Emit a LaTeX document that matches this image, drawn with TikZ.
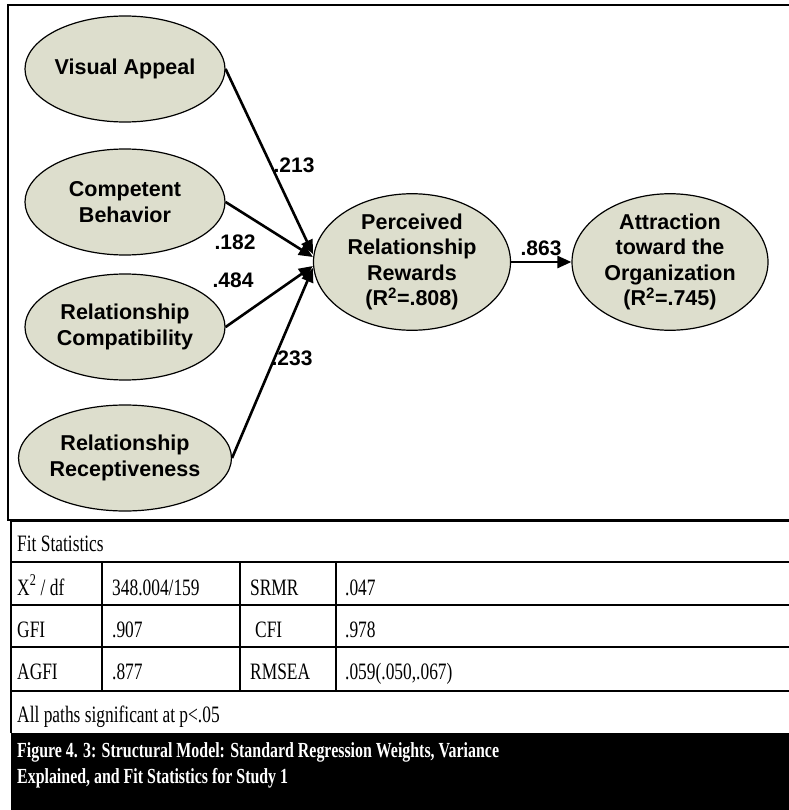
\documentclass[tikz,border=0pt]{standalone}
\usepackage{fontspec}
\setmainfont{Liberation Serif}
\newfontfamily\diagfont{Liberation Sans}
\newfontfamily\tabfont[FakeStretch=0.74]{Liberation Serif}
\newfontfamily\capfont[FakeStretch=0.74]{Liberation Serif}
\usetikzlibrary{shapes.geometric,arrows.meta}
\definecolor{latentfill}{RGB}{221,222,205}

\begin{document}
\begin{tikzpicture}[x=1pt,y=-1pt,
    latent/.style={ellipse,draw,line width=1.2pt,fill=latentfill,
      minimum width=200pt,minimum height=106pt,inner sep=0pt,align=center,
      font=\diagfont\bfseries\fontsize{21.5}{25.5}\selectfont},
    regpath/.style={line width=2.6pt,-{Triangle[length=14pt,width=12pt]}},
    wlabel/.style={inner sep=0pt,font=\diagfont\bfseries\fontsize{21}{25}\selectfont},
    cell/.style={anchor=base west,inner sep=0pt,font=\tabfont\fontsize{23.5}{26}\selectfont},
    tabrule/.style={line width=1.5pt}]
    \useasboundingbox (0,0) rectangle (788,810);

    % Diagram frame
    \draw[line width=2.6pt] (795,5) -- (8,5) -- (8,520) -- (795,520);

    % Exogenous constructs
    \node[latent] (va) at (125,69) {Visual Appeal};
    \node[latent] (cb) at (125,202) {Competent\\Behavior};
    \node[latent] (rc) at (125,327) {Relationship\\Compatibility};
    \node[latent] (rr) at (125,458) {Relationship\\Receptiveness};

    % Endogenous constructs
    \node[latent,minimum width=197pt,minimum height=124pt] (prr) at (412,262)
      {Perceived\\Relationship\\Rewards\\(R\textsuperscript{2}=.808)};
    \node[latent,minimum width=196pt,minimum height=124pt] (ato) at (670,262)
      {Attraction\\toward the\\Organization\\(R\textsuperscript{2}=.745)};

    % Regression paths
    \draw[regpath] (va.east) -- ([yshift=8pt]prr.west);
    \draw[regpath] (cb.east) -- ([yshift=5pt]prr.west);
    \draw[regpath] (rc.east) -- ([yshift=-4pt]prr.west);
    \draw[regpath] (rr.east) -- ([yshift=-6pt]prr.west);
    \draw[regpath] (prr.east) -- (ato.west);

    % Standardised weights
    \node[wlabel] (w1) at (294,165) {.213};
    \node[wlabel] (w2) at (235,242) {.182};
    \node[wlabel] (w3) at (233,280) {.484};
    \node[wlabel] (w4) at (292,358) {.233};
    \node[wlabel] (w5) at (541,248) {.863};

    % Fit statistics table
    \draw[tabrule] (795,521) -- (11,521) -- (11,733);
    \draw[tabrule] (11,562) -- (795,562);
    \draw[tabrule] (11,605) -- (795,605);
    \draw[tabrule] (11,647) -- (795,647);
    \draw[tabrule] (11,691) -- (795,691);
    \draw[tabrule] (102,562) -- (102,691);
    \draw[tabrule] (240,562) -- (240,691);
    \draw[tabrule] (336,562) -- (336,691);

    \node[cell] (fit) at (17,551) {Fit Statistics};
    \node[cell] (chi) at (17,595) {X\textsuperscript{2} / df};
    \node[cell] (chiv) at (112,595) {348.004/159};
    \node[cell] (srmr) at (250,595) {SRMR};
    \node[cell] (srmrv) at (345,595) {.047};
    \node[cell] (gfi) at (17,637) {GFI};
    \node[cell] (gfiv) at (112,637) {.907};
    \node[cell] (cfi) at (255,637) {CFI};
    \node[cell] (cfiv) at (345,637) {.978};
    \node[cell] (agfi) at (17,679) {AGFI};
    \node[cell] (agfiv) at (112,679) {.877};
    \node[cell] (rmsea) at (250,679) {RMSEA};
    \node[cell] (rmseav) at (345,679) {.059(.050,.067)};
    \node[cell] (note) at (17,722) {All paths significant at p<.05};

    % Caption
    \fill (11,733) rectangle (795,815);
    \node[cell,text=white,font=\capfont\bfseries\fontsize{21.5}{26}\selectfont] (cap1) at (17,757)
      {Figure 4. 3: Structural Model: Standard Regression Weights, Variance};
    \node[cell,text=white,font=\capfont\bfseries\fontsize{21.5}{26}\selectfont] (cap2) at (17,783)
      {Explained, and Fit Statistics for Study 1};
\end{tikzpicture}
\end{document}
